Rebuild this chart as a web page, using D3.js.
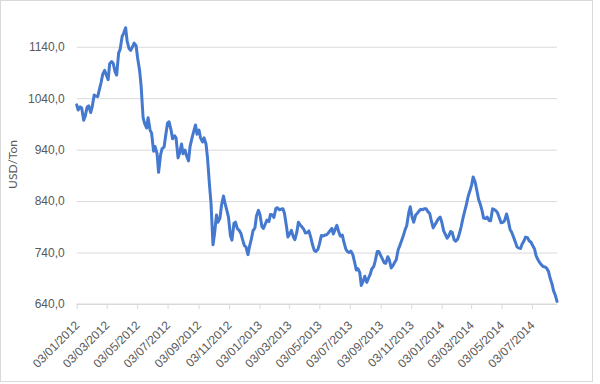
<!DOCTYPE html>
<html><head><meta charset="utf-8">
<script src="https://cdn.jsdelivr.net/npm/d3@7"></script>
<style>
html,body{margin:0;padding:0;background:#fff;}
svg{display:block;font-family:Lato,"Open Sans",sans-serif;}
</style></head>
<body>
<svg id="chart" width="600" height="384"></svg>
<script>
// ---- data ----
const firstDate = "2012-01-03";   // observations: Tuesdays and Fridays
const lastDate = "2014-08-22";
const values = [
1027,1017, 1023,1021, 997,1005, 1023,1025, 1012,1023, 1046,1044, 1043,1055, 1071,1086,
1094,1086, 1076,1107, 1111,1108, 1091,1085, 1128,1135, 1160,1166, 1177,1151, 1136,1133,
1140,1147, 1142,1118, 1094,1064, 1002,991, 982,1002, 978,972, 937,946, 932,896,
930,942, 945,966, 992,994, 978,961, 967,963, 924,933, 951,932, 939,928,
918,946, 963,974, 988,970, 978,963, 955,963, 951,924, 871,836, 755,776,
813,799, 807,832, 850,836, 821,809, 772,764, 797,799, 786,784, 777,766,
753,751, 736,751, 767,782, 788,811, 822,814, 790,787, 796,803, 800,814,
813,808, 826,827, 823,824, 825,817, 792,770, 777,783, 770,765, 780,799,
793,790, 785,778, 779,782, 769,756, 744,742, 746,756, 773,772, 774,774,
778,782, 787,776, 786,793, 780,772, 774,761, 747,742, 740,743, 736,724,
706,709, 701,676, 685,694, 682,689, 698,708, 713,724, 742,742, 734,728,
720,719, 732,726, 710,714, 721,726, 746,753, 764,772, 785,792, 817,829,
808,799, 813,816, 821,824, 823,825, 825,820, 816,803, 788,793, 800,805,
809,800, 782,776, 768,772, 781,779, 765,762, 766,775, 790,804, 820,831,
849,858, 871,887, 877,863, 843,835, 821,807, 806,809, 802,802, 825,824,
821,817, 806,798, 799,802, 815,804, 785,780, 770,762, 751,749, 748,756,
763,770, 769,763, 760,754, 747,734, 726,721, 716,713, 712,710, 703,691,
679,666, 656,645
];
const xTickLabels = ["03/01/2012","03/03/2012","03/05/2012","03/07/2012","03/09/2012","03/11/2012",
  "03/01/2013","03/03/2013","03/05/2013","03/07/2013","03/09/2013","03/11/2013",
  "03/01/2014","03/03/2014","03/05/2014","03/07/2014"];
const yTicks = [640, 740, 840, 940, 1040, 1140];
const yDomain = [640, 1190];
const yTitle = "USD/Ton";

// ---- build ----
const parseISO = d3.utcParse("%Y-%m-%d");
const parseLbl = d3.utcParse("%d/%m/%Y");
const fmtLbl = d3.utcFormat("%d/%m/%Y");
const d0 = parseISO(firstDate), d1 = parseISO(lastDate);
const dates = d3.utcDay.range(d0, d3.utcDay.offset(d1, 1))
  .filter(d => d.getUTCDay() === 2 || d.getUTCDay() === 5);
const data = dates.map((d, i) => ({date: d, value: values[i]})).filter(d => d.value != null);

const svg = d3.select("#chart");
const margin = {left: 76.7, right: 43, top: 21, bottom: 80};
const W = 600, H = 384;
const x = d3.scaleUtc().domain([d0, d1]).range([margin.left, W - margin.right]);
const y = d3.scaleLinear().domain(yDomain).range([H - margin.bottom, margin.top]);

// border
svg.append("rect").attr("x", 0.5).attr("y", 0.5).attr("width", 592).attr("height", 381)
  .attr("fill", "#fff").attr("stroke", "#d9d9d9");

// y grid + labels
const yAxis = d3.axisLeft(y).tickValues(yTicks)
  .tickSize(-(x.range()[1] - x.range()[0]))
  .tickPadding(12)
  .tickFormat(d => d3.format(".1f")(d).replace(".", ","));
const gy = svg.append("g").attr("transform", `translate(${margin.left},0)`).call(yAxis);
gy.select(".domain").remove();
gy.selectAll(".tick line").attr("stroke", "#d9d9d9").attr("stroke-width", 1);
gy.selectAll(".tick text").attr("fill", "#595959").style("font-size", "12px");

// x axis
const xAxis = d3.axisBottom(x).tickValues(xTickLabels.map(parseLbl))
  .tickSize(5).tickFormat(fmtLbl);
const gx = svg.append("g").attr("transform", `translate(0,${y(yDomain[0])})`).call(xAxis);
gx.select(".domain").attr("stroke", "#d9d9d9").attr("d", `M${x.range()[0]},0H${x.range()[1]}`);
gx.selectAll(".tick line").attr("stroke", "#d9d9d9");
gx.selectAll(".tick text")
  .attr("fill", "#595959").style("font-size", "12px")
  .attr("text-anchor", "end")
  .attr("dy", null).attr("y", null)
  .attr("transform", "translate(3,22) rotate(-45)");

// y title
svg.append("text")
  .attr("transform", `translate(17,${(y(yDomain[0]) + y(yDomain[1])) / 2 + 2}) rotate(-90)`)
  .attr("text-anchor", "middle").attr("fill", "#595959").style("font-size", "12px")
  .text(yTitle);

// line
const line = d3.line().x(d => x(d.date)).y(d => y(d.value)).curve(d3.curveLinear);
svg.append("path").datum(data)
  .attr("fill", "none").attr("stroke", "#4579cf").attr("stroke-width", 3)
  .attr("stroke-linejoin", "round").attr("stroke-linecap", "round")
  .attr("d", line);
</script>
</body></html>
